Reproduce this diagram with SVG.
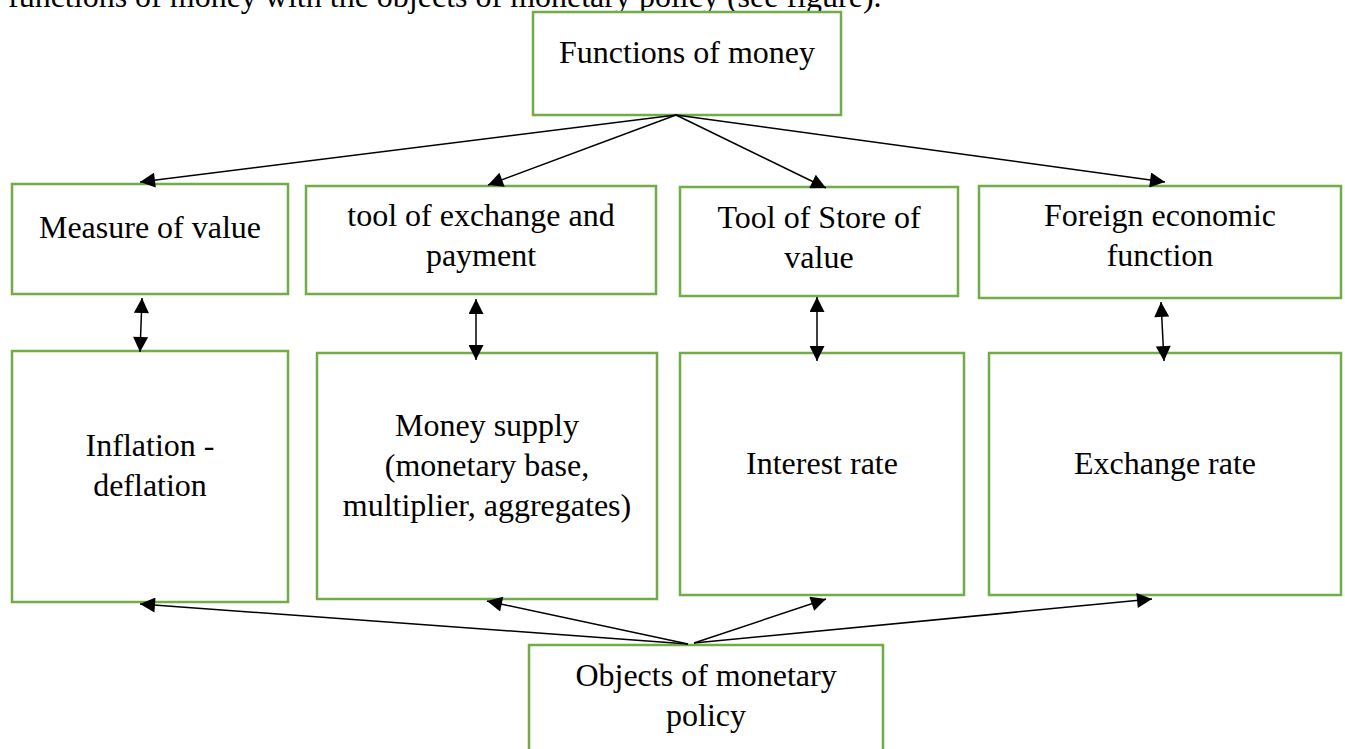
<svg xmlns="http://www.w3.org/2000/svg" width="1345" height="749" viewBox="0 0 1345 749">
<defs>
<marker id="ah" viewBox="0 0 10 10" refX="10" refY="5" markerWidth="18" markerHeight="15" markerUnits="userSpaceOnUse" orient="auto-start-reverse">
<path d="M0,0 L10,5 L0,10 z" fill="#000"/>
</marker>
<style>
.box{fill:#fff;stroke:#70AD47;stroke-width:2.5}
.t{font-family:"Liberation Serif","Times New Roman",serif;font-size:32px;fill:#000;text-anchor:middle}
.c{stroke:#000;stroke-width:1.5;fill:none}
</style>
</defs>
<rect width="1345" height="749" fill="#fff"/>
<text x="8" y="7" style="font-family:'Liberation Serif','Times New Roman',serif;font-size:32px;fill:#000">functions of money with the objects of monetary policy (see figure).</text>

<g id="functions">
<rect class="box" x="533" y="12" width="308" height="103"/>
<text class="t" x="687" y="63">Functions of money</text>
</g>
<g id="measure">
<rect class="box" x="12" y="184" width="276" height="110"/>
<text class="t" x="150" y="238">Measure of value</text>
</g>
<g id="exchange-tool">
<rect class="box" x="306" y="186" width="350" height="108"/>
<text class="t" x="481" y="226">tool of exchange and</text>
<text class="t" x="481" y="266">payment</text>
</g>
<g id="store">
<rect class="box" x="680" y="187" width="278" height="109"/>
<text class="t" x="819" y="228">Tool of Store of</text>
<text class="t" x="819" y="268">value</text>
</g>
<g id="foreign">
<rect class="box" x="979" y="186" width="362" height="112"/>
<text class="t" x="1160" y="226">Foreign economic</text>
<text class="t" x="1160" y="266">function</text>
</g>
<g id="inflation">
<rect class="box" x="12" y="351" width="276" height="251"/>
<text class="t" x="150" y="456">Inflation -</text>
<text class="t" x="150" y="496">deflation</text>
</g>
<g id="money-supply">
<rect class="box" x="317" y="353" width="340" height="246"/>
<text class="t" x="487" y="436">Money supply</text>
<text class="t" x="487" y="476">(monetary base,</text>
<text class="t" x="487" y="516">multiplier, aggregates)</text>
</g>
<g id="interest">
<rect class="box" x="680" y="353" width="284" height="242"/>
<text class="t" x="822" y="474">Interest rate</text>
</g>
<g id="exchange-rate">
<rect class="box" x="989" y="353" width="352" height="242"/>
<text class="t" x="1165" y="474">Exchange rate</text>
</g>
<g id="objects">
<rect class="box" x="529" y="645" width="354" height="110"/>
<text class="t" x="706" y="686">Objects of monetary</text>
<text class="t" x="706" y="726">policy</text>
</g>

<g id="connectors">
<line class="c" x1="676" y1="115" x2="140" y2="182" marker-end="url(#ah)"/>
<line class="c" x1="676" y1="115" x2="488" y2="185" marker-end="url(#ah)"/>
<line class="c" x1="676" y1="115" x2="826" y2="188" marker-end="url(#ah)"/>
<line class="c" x1="676" y1="115" x2="1165" y2="182" marker-end="url(#ah)"/>
<line class="c" x1="142" y1="298" x2="140" y2="352" marker-start="url(#ah)" marker-end="url(#ah)"/>
<line class="c" x1="476" y1="299" x2="476" y2="360" marker-start="url(#ah)" marker-end="url(#ah)"/>
<line class="c" x1="817" y1="297" x2="817" y2="361" marker-start="url(#ah)" marker-end="url(#ah)"/>
<line class="c" x1="1161" y1="302" x2="1164" y2="361" marker-start="url(#ah)" marker-end="url(#ah)"/>
<line class="c" x1="688" y1="644" x2="140" y2="604" marker-end="url(#ah)"/>
<line class="c" x1="688" y1="644" x2="487" y2="601" marker-end="url(#ah)"/>
<line class="c" x1="694" y1="643" x2="826" y2="599" marker-end="url(#ah)"/>
<line class="c" x1="694" y1="643" x2="1152" y2="599" marker-end="url(#ah)"/>
</g>
</svg>
